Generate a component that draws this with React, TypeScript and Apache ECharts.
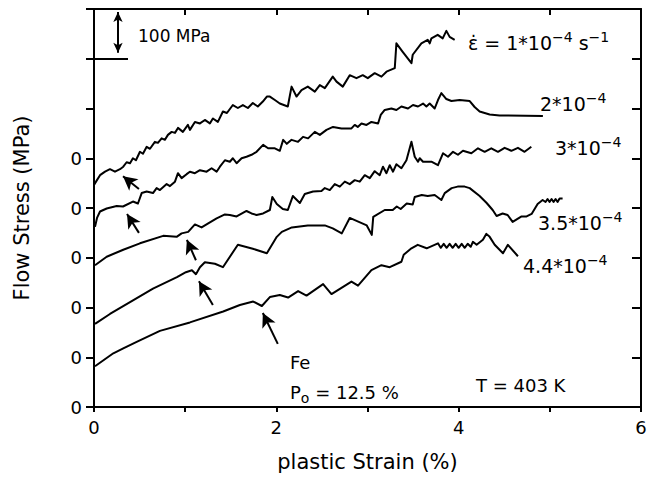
import React, { useEffect, useRef } from "react";
import * as echarts from "echarts";

// x: plastic strain (%), y: flow stress (MPa, curves offset by 100 MPa steps)
const curve1e4: number[][] = [
  [0, 446], [0.022, 453], [0.066, 466], [0.121, 473], [0.175, 478], [0.23, 473], [0.285, 478], [0.321, 483],
  [0.358, 492], [0.395, 490], [0.427, 500], [0.46, 496], [0.504, 513], [0.537, 509], [0.578, 523], [0.614, 519],
  [0.668, 533], [0.701, 531], [0.742, 540], [0.778, 537], [0.811, 547], [0.852, 553], [0.888, 551], [0.921, 561],
  [0.975, 553], [1.03, 567], [1.052, 557], [1.107, 573], [1.162, 570], [1.216, 577], [1.271, 570], [1.304, 580],
  [1.359, 573], [1.414, 594], [1.458, 591], [1.523, 607], [1.578, 601], [1.633, 607], [1.688, 601], [1.742, 611],
  [1.797, 604], [1.852, 614], [1.896, 624], [1.929, 624], [1.984, 617], [2.038, 610], [2.126, 604], [2.167, 644],
  [2.221, 624], [2.276, 637], [2.345, 644], [2.422, 634], [2.477, 647], [2.532, 641], [2.619, 664], [2.66, 654],
  [2.729, 644], [2.805, 667], [2.879, 661], [2.948, 667], [3.003, 661], [3.079, 671], [3.153, 664], [3.208, 674],
  [3.299, 681], [3.317, 731], [3.386, 714], [3.482, 691], [3.496, 708], [3.591, 731], [3.66, 738], [3.682, 731],
  [3.701, 741], [3.77, 748], [3.825, 741], [3.865, 756], [3.901, 744], [3.956, 738],
];

const curve2e4: number[][] = [
  [0.011, 362], [0.033, 380], [0.066, 393], [0.139, 399], [0.249, 404], [0.318, 403], [0.427, 413], [0.482, 409],
  [0.523, 430], [0.578, 433], [0.647, 430], [0.687, 440], [0.723, 436], [0.797, 448], [0.833, 444], [0.888, 453],
  [0.921, 470], [0.961, 460], [1.016, 468], [1.052, 473], [1.107, 470], [1.162, 476], [1.235, 473], [1.29, 480],
  [1.345, 473], [1.381, 483], [1.436, 496], [1.49, 493], [1.523, 500], [1.564, 490], [1.619, 500], [1.673, 503],
  [1.728, 507], [1.783, 513], [1.855, 527], [1.91, 520], [1.984, 520], [2.038, 515], [2.075, 537], [2.115, 529],
  [2.167, 537], [2.238, 533], [2.293, 543], [2.348, 540], [2.422, 553], [2.477, 547], [2.55, 557], [2.622, 563],
  [2.715, 560], [2.824, 560], [2.86, 567], [2.893, 563], [2.934, 570], [2.989, 567], [3.043, 573], [3.116, 570],
  [3.145, 587], [3.189, 597], [3.262, 600], [3.317, 597], [3.372, 604], [3.444, 600], [3.499, 607], [3.554, 604],
  [3.609, 610], [3.646, 604], [3.682, 610], [3.737, 600], [3.773, 617], [3.81, 631], [3.865, 619], [3.92, 615],
  [4.011, 617], [4.121, 615], [4.175, 603], [4.23, 594], [4.34, 588], [4.449, 586], [4.924, 585],
];

const curve3e4: number[][] = [
  [0.011, 285], [0.139, 302], [0.321, 316], [0.504, 329], [0.759, 344], [0.906, 342], [0.961, 349], [1.033, 352],
  [1.107, 367], [1.18, 361], [1.253, 369], [1.345, 379], [1.436, 387], [1.49, 386], [1.564, 383], [1.673, 394],
  [1.728, 389], [1.783, 386], [1.855, 389], [1.929, 396], [1.956, 422], [2.005, 408], [2.071, 398], [2.126, 396],
  [2.181, 424], [2.258, 410], [2.312, 428], [2.403, 433], [2.495, 434], [2.532, 440], [2.586, 436], [2.641, 448],
  [2.696, 443], [2.751, 453], [2.805, 448], [2.86, 456], [2.915, 453], [2.97, 466], [3.025, 460], [3.079, 474],
  [3.134, 466], [3.17, 483], [3.208, 470], [3.244, 486], [3.28, 473], [3.317, 488], [3.372, 480], [3.427, 496],
  [3.482, 533], [3.518, 503], [3.554, 493], [3.573, 500], [3.609, 493], [3.701, 493], [3.773, 486], [3.828, 510],
  [3.883, 503], [3.938, 513], [3.992, 507], [4.047, 515], [4.139, 510], [4.212, 520], [4.285, 513], [4.358, 520],
  [4.431, 513], [4.504, 521], [4.578, 515], [4.65, 521], [4.723, 513], [4.797, 523],
];

const curve35e4: number[][] = [
  [0.011, 167], [0.175, 187], [0.395, 211], [0.647, 238], [0.91, 261], [1.008, 271], [1.074, 275], [1.118, 267],
  [1.162, 281], [1.216, 291], [1.326, 288], [1.414, 281], [1.578, 326], [1.742, 318], [1.896, 309], [2.005, 342],
  [2.06, 352], [2.17, 361], [2.345, 365], [2.532, 365], [2.619, 359], [2.718, 349], [2.805, 380], [2.992, 365],
  [3.047, 346], [3.063, 382], [3.189, 396], [3.277, 396], [3.321, 403], [3.364, 398], [3.43, 409], [3.496, 407],
  [3.518, 422], [3.595, 426], [3.66, 424], [3.737, 426], [3.81, 416], [3.847, 430], [3.923, 440], [3.989, 443],
  [4.066, 443], [4.121, 440], [4.23, 424], [4.307, 410], [4.373, 396], [4.416, 384], [4.482, 389], [4.537, 386],
  [4.592, 372], [4.69, 383], [4.745, 383], [4.8, 388], [4.866, 408], [4.921, 416], [4.953, 412], [4.975, 418],
  [4.997, 412], [5.019, 418], [5.041, 412], [5.063, 418], [5.085, 412], [5.107, 419], [5.14, 419],
];

const curve44e4: number[][] = [
  [0.011, 82], [0.212, 108], [0.321, 118], [0.468, 131], [0.723, 153], [1.052, 170], [1.417, 192], [1.6, 205],
  [1.746, 212], [1.841, 203], [1.929, 221], [2.038, 225], [2.129, 220], [2.239, 233], [2.331, 224], [2.513, 247],
  [2.605, 227], [2.824, 252], [2.896, 244], [3.043, 275], [3.153, 285], [3.244, 281], [3.372, 292], [3.397, 306],
  [3.482, 319], [3.551, 326], [3.649, 319], [3.773, 329], [3.803, 320], [3.836, 328], [3.868, 320], [3.901, 328],
  [3.934, 320], [3.967, 328], [4.0, 320], [4.033, 328], [4.066, 320], [4.099, 328], [4.132, 322], [4.156, 332],
  [4.197, 326], [4.266, 336], [4.304, 348], [4.34, 342], [4.395, 326], [4.486, 309], [4.54, 326], [4.65, 303],
];

// arrows marking onset of serrations: [tailX, tailY, headX, headY]
const onsetArrows: number[][] = [
  [0.493, 438, 0.318, 464],
  [0.493, 350, 0.362, 388],
  [1.118, 295, 1.019, 336],
  [1.304, 205, 1.151, 253],
  [2.016, 127, 1.852, 189],
];

const yTicks = [0, 100, 200, 300, 400, 500, 600, 700, 800];
const zeroLabelMax = 500;
const xLabelTicks = [0, 2, 4, 6];

// scale bar: 100 MPa
const scaleBarY = 700;
const scaleBarEndX = 0.373;
const scaleArrowX = 0.263;
const scaleArrowFrom = 712;
const scaleArrowTo = 794;

const FONT = "DejaVu Sans";

export default function App() {
  const ref = useRef<HTMLDivElement>(null);
  useEffect(() => {
    if (!ref.current) return;
    const chart = echarts.init(ref.current, undefined, { renderer: "svg" });
    const black = "#000";
    const lineSeries = (name: string, data: number[][]) => ({
      name,
      type: "line",
      data,
      showSymbol: false,
      symbol: "none",
      lineStyle: { color: black, width: 2, join: "round" },
      silent: true,
    });

    const arrowData: any[] = onsetArrows.map((a) => [
      { coord: [a[0], a[1]], symbol: "none" },
      { coord: [a[2], a[3]], symbol: "arrow", symbolSize: [11, 14] },
    ]);
    arrowData.push([
      { coord: [0, scaleBarY], symbol: "none" },
      { coord: [scaleBarEndX, scaleBarY], symbol: "none" },
    ]);
    arrowData.push([
      { coord: [scaleArrowX, scaleArrowFrom], symbol: "arrow", symbolSize: [7, 10] },
      { coord: [scaleArrowX, scaleArrowTo], symbol: "arrow", symbolSize: [7, 10] },
    ]);

    const sup = { fontSize: 14, fontFamily: FONT, verticalAlign: "top", lineHeight: 14, fill: black, color: black };
    const base = { fontSize: 19, fontFamily: FONT, lineHeight: 26, fill: black, color: black };
    const rich = { a: base, s: sup, sub: { fontSize: 14, fontFamily: FONT, verticalAlign: "bottom", lineHeight: 14, color: black } };
    const label = (x: number, y: number, text: string) => ({
      type: "text",
      x,
      y,
      silent: true,
      style: { text, rich, fill: black, verticalAlign: "middle", font: `19px ${FONT}` },
    });

    chart.setOption({
      animation: false,
      backgroundColor: "#fff",
      grid: { left: 94, right: 13, top: 9, bottom: 75, containLabel: false },
      xAxis: [
        {
          type: "value",
          min: 0,
          max: 6,
          interval: 1,
          position: "bottom",
          axisLine: { show: true, onZero: false, lineStyle: { color: black, width: 2 } },
          axisTick: { show: true, inside: false, length: 5, lineStyle: { color: black, width: 2 } },
          axisLabel: {
            color: black,
            fontSize: 18,
            fontFamily: FONT,
            margin: 11,
            formatter: (v: number) => (xLabelTicks.includes(v) ? String(v) : ""),
          },
          splitLine: { show: false },
          name: "plastic Strain (%)",
          nameLocation: "middle",
          nameGap: 44,
          nameTextStyle: { color: black, fontSize: 21, fontFamily: FONT },
        },
        {
          type: "value",
          min: 0,
          max: 6,
          interval: 1,
          position: "top",
          axisLine: { show: true, onZero: false, lineStyle: { color: black, width: 2 } },
          axisTick: { show: true, inside: true, length: 6, lineStyle: { color: black, width: 2 } },
          axisLabel: { show: false },
          splitLine: { show: false },
        },
      ],
      yAxis: [
        {
          type: "value",
          min: yTicks[0],
          max: yTicks[yTicks.length - 1],
          interval: 100,
          position: "left",
          axisLine: { show: true, onZero: false, lineStyle: { color: black, width: 2 } },
          axisTick: { show: true, inside: false, length: 8, lineStyle: { color: black, width: 2 } },
          axisLabel: {
            color: black,
            fontSize: 18,
            fontFamily: FONT,
            margin: 12,
            formatter: (v: number) => (v <= zeroLabelMax ? "0" : ""),
          },
          splitLine: { show: false },
          name: "Flow Stress (MPa)",
          nameLocation: "middle",
          nameGap: 62,
          nameTextStyle: { color: black, fontSize: 21, fontFamily: FONT },
        },
        {
          type: "value",
          min: yTicks[0],
          max: yTicks[yTicks.length - 1],
          interval: 100,
          position: "right",
          axisLine: { show: true, onZero: false, lineStyle: { color: black, width: 2 } },
          axisTick: { show: true, inside: true, length: 9, lineStyle: { color: black, width: 2 } },
          axisLabel: { show: false },
          splitLine: { show: false },
        },
      ],
      series: [
        lineSeries("1e-4", curve1e4),
        lineSeries("2e-4", curve2e4),
        lineSeries("3e-4", curve3e4),
        lineSeries("3.5e-4", curve35e4),
        {
          ...lineSeries("4.4e-4", curve44e4),
          markLine: {
            silent: true,
            animation: false,
            label: { show: false },
            lineStyle: { color: black, width: 2, type: "solid" },
            emphasis: { disabled: true },
            data: arrowData,
          },
        },
      ],
      graphic: [
        { type: "text", x: 138, y: 36, silent: true, style: { text: "100 MPa", fill: black, font: `17px ${FONT}`, verticalAlign: "middle" } },
        label(468, 43, "{a|ε̇ = 1*10}{s|−4}{a| s}{s|−1}"),
        label(540, 104, "{a|2*10}{s|−4}"),
        label(555, 148, "{a|3*10}{s|−4}"),
        label(538, 223, "{a|3.5*10}{s|−4}"),
        label(523, 266, "{a|4.4*10}{s|−4}"),
        { type: "text", x: 290, y: 362, silent: true, style: { text: "Fe", fill: black, font: `18px ${FONT}`, verticalAlign: "middle" } },
        {
          type: "text",
          x: 290,
          y: 392,
          silent: true,
          style: {
            text: "{a|P}{sub|o}{a| = 12.5 %}",
            rich: { a: { ...base, fontSize: 18 }, sub: rich.sub },
            fill: black,
            verticalAlign: "middle",
            font: `18px ${FONT}`,
          },
        },
        { type: "text", x: 476, y: 385, silent: true, style: { text: "T = 403 K", fill: black, font: `18px ${FONT}`, verticalAlign: "middle" } },
      ],
    });
    return () => chart.dispose();
  }, []);
  return <div ref={ref} style={{ position: "fixed", left: 0, top: 0, width: 654, height: 482 }} />;
}
